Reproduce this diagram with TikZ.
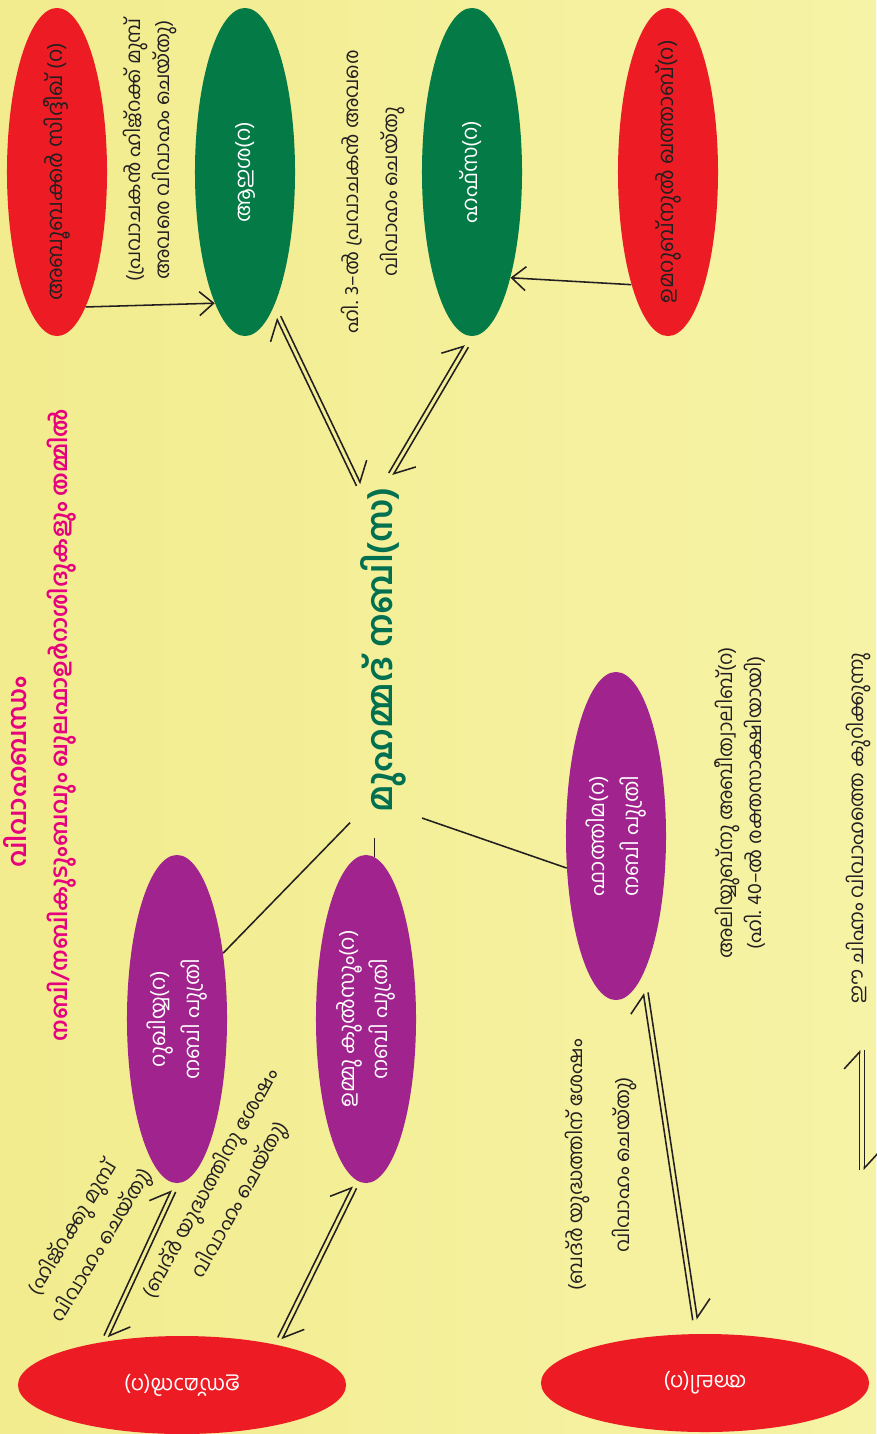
\documentclass[tikz,border=0pt]{standalone}
\usepackage{fontspec}
\usepackage{graphicx}
\newfontfamily\malfont[Script=Malayalam]{Hind Kochi}
\usetikzlibrary{arrows.meta, shapes.geometric, calc}

\definecolor{bgleft}{RGB}{242,236,142}
\definecolor{bgright}{RGB}{246,243,166}
\definecolor{wifered}{RGB}{237,28,36}
\definecolor{wifegreen}{RGB}{4,122,70}
\definecolor{daughter}{RGB}{160,35,142}
\definecolor{titlepink}{RGB}{230,0,126}
\definecolor{nabigreen}{RGB}{0,112,80}
\definecolor{ink}{RGB}{35,31,32}

\newcommand{\vtext}[1]{\rotatebox{90}{\begin{tabular}{@{}c@{}}#1\end{tabular}}}
\newcommand{\wedlink}[4]{%
  \coordinate (w1) at ($(#1)!#3!(#2)$);
  \coordinate (w2) at ($(#2)!#4!(#1)$);
  \draw[wed] ($(w1)!1.7pt!90:(w2)$) -- ($(w2)!1.7pt!-90:(w1)$);
  \draw[wed] ($(w2)!1.7pt!90:(w1)$) -- ($(w1)!1.7pt!-90:(w2)$);
}

\begin{document}
\begin{tikzpicture}[x=0.025cm, y=-0.025cm,
    wife/.style={ellipse, minimum width=2.5cm, minimum height=8.2cm, inner sep=-30pt,
      font=\malfont\fontsize{15}{18}\selectfont},
    groom/.style={ellipse, minimum width=8.2cm, minimum height=2.45cm, inner sep=0pt,
      fill=wifered, text=white, font=\malfont\fontsize{15}{18}\selectfont},
    title/.style={text=titlepink, rotate=90, inner sep=0pt,
      font=\malfont\bfseries\fontsize{16}{19}\selectfont},
    note/.style={text=ink, align=center, rotate=90, inner sep=0pt,
      font=\malfont\fontsize{14}{21}\selectfont},
    wed/.style={line width=1.1pt, draw=ink, -{Straight Barb[harpoon, length=12pt, width=22pt]}},
    wedarrow/.style={line width=1.1pt, draw=ink, -{Straight Barb[length=10pt, width=17pt]}},
    kin/.style={line width=1.1pt, draw=ink}]

\shade[left color=bgleft, right color=bgright] (0,0) rectangle (876,1434);
\useasboundingbox (0,0) rectangle (876,1434);

\node[title, font=\malfont\bfseries\fontsize{18}{20}\selectfont] (title1) at (15,772) {വിവാഹബന്ധം};
\node[title] (title2) at (62,725) {നബി/നബികുടുംബവും ഖുലഫാഉർറാശിദുകളും തമ്മിൽ};

\node[wife, fill=wifered, text=ink] (abubakr) at (57,172) {\vtext{അബൂബക്കർ സിദ്ദീഖ് (റ)}};
\node[wife, fill=wifegreen, text=white] (aisha) at (245,172) {\vtext{ആഇശ(റ)}};
\node[wife, fill=wifegreen, text=white] (hafsa) at (472,172) {\vtext{ഹഫ്സ(റ)}};
\node[wife, fill=wifered, text=ink] (umar) at (668,172) {\vtext{ഉമറുബ്നുൽ ഖത്താബ്(റ)}};

\node[text=nabigreen, inner sep=0pt, font=\malfont\bfseries\fontsize{25}{28}\selectfont]
  (nabi) at (383,650) {\rotatebox{90}{മുഹമ്മദ് നബി(സ)}};

\node[wife, fill=daughter, text=white] (ruqayya) at (177,1019) {\vtext{റുഖിയ്യ(റ)\\[5pt] നബി പുത്രി}};
\node[wife, fill=daughter, text=white] (ummu) at (366,1019) {\vtext{ഉമ്മു കുൽസൂം(റ)\\[5pt] നബി പുത്രി}};
\node[wife, fill=daughter, text=white] (fatima) at (616,836) {\vtext{ഫാത്തിമ(റ)\\[5pt] നബി പുത്രി}};

\node[groom] (uthman) at (182,1385) {\rotatebox{180}{ഉസ്മാൻ(റ)}};
\node[groom] (ali) at (705,1383) {\rotatebox{180}{അലി(റ)}};

\node[note] (noteaisha) at (150,150) {(പ്രവാചകൻ ഹിജ്റക്ക് മുമ്പ്\\അവരെ വിവാഹം ചെയ്തു)};
\node[note] (notehafsa) at (373,192) {ഹി. 3–ൽ പ്രവാചകൻ അവരെ\\[7pt]വിവാഹം ചെയ്തു};
\node[note, rotate=-31] (noteruq) at (88,1237) {(ഹിജ്റക്കു മുമ്പ്\\[3pt]വിവാഹം ചെയ്തു)};
\node[note, rotate=-29] (noteummu) at (226,1192) {(ബദ്ർ യുദ്ധത്തിനു ശേഷം\\[3pt]വിവാഹം ചെയ്തു)};
\node[note] (notefatima) at (601,1165) {(ബദ്ർ യുദ്ധത്തിന് ശേഷം\\[12pt]വിവാഹം ചെയ്തു)};
\node[note] (noteali) at (740,803) {അലിയ്യുബ്നു അബീത്വാലിബ്(റ)\\(ഹി. 40–ൽ രക്തസാക്ഷിയായി)};
\node[note] (legend) at (858,828) {ഈ ചിഹ്നം വിവാഹത്തെ കുറിക്കുന്നു};

\draw[wedarrow] (abubakr.-78) -- (aisha.-103);
\draw[wedarrow] (umar.-108) -- (hafsa.-70);

\wedlink{aisha.-78}{nabi.north west}{8pt}{2pt}
\wedlink{hafsa.south}{nabi.north}{8pt}{11pt}

\draw[kin, shorten <=10pt] (nabi.south west) -- (ruqayya.55);
\draw[kin, shorten >=18pt] (ummu.87) -- (ummu.87 |- nabi.south);
\draw[kin, shorten <=12pt] (nabi.south east) -- (fatima.213);

\wedlink{ruqayya.south}{uthman.151}{6pt}{4pt}
\wedlink{ummu.-93}{uthman.23}{5pt}{5pt}
\wedlink{fatima.-79}{ali.99}{13pt}{10pt}

\coordinate (legbot) at (862,1170);
\coordinate (legtop) at (862,1050);
\wedlink{legbot}{legtop}{0pt}{0pt}
\end{tikzpicture}
\end{document}
